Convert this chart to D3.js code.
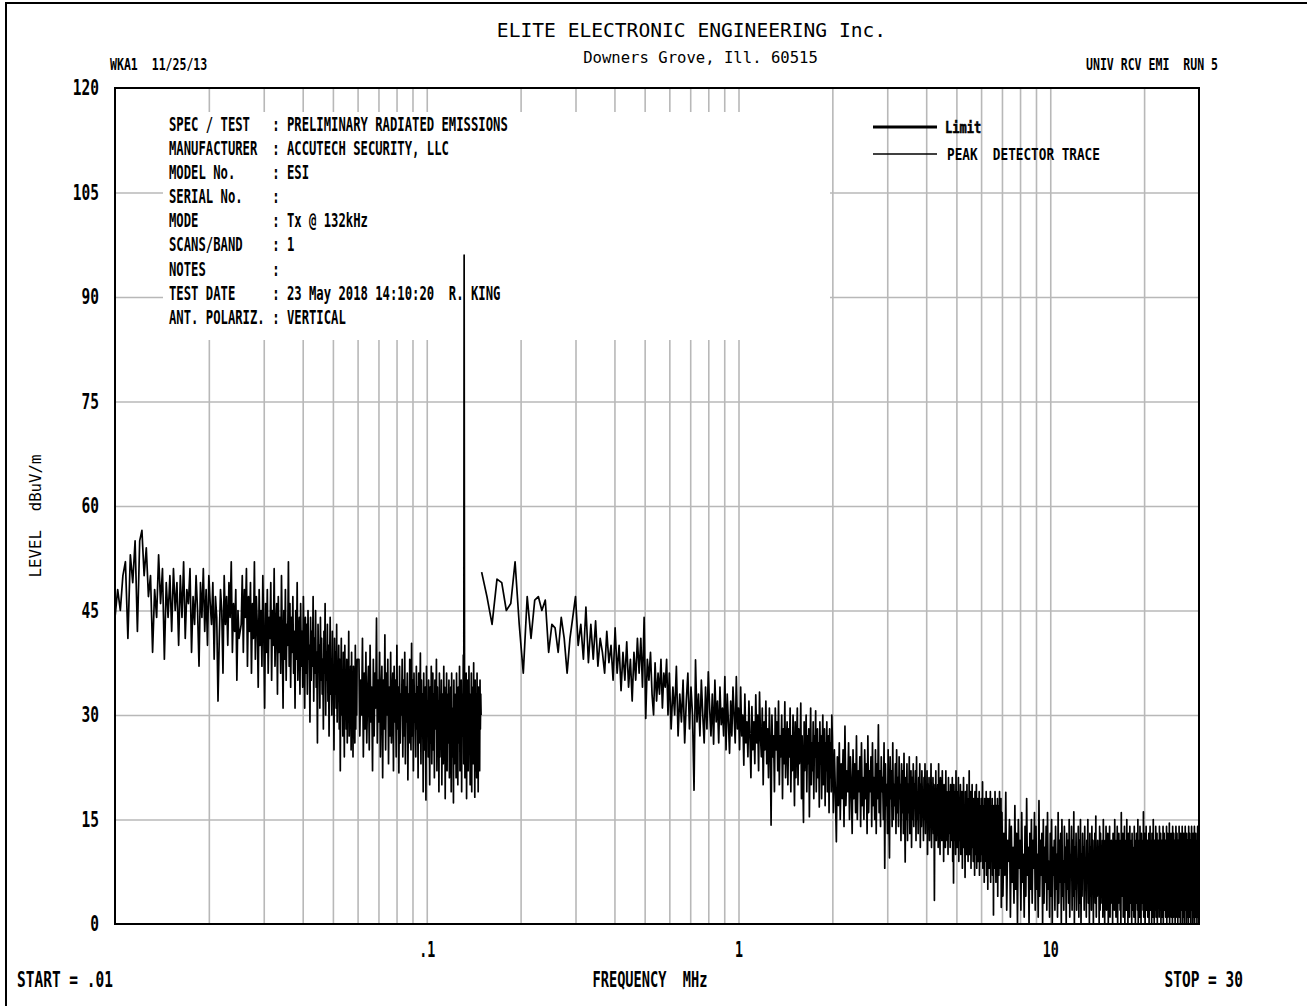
<!DOCTYPE html>
<html>
<head>
<meta charset="utf-8">
<script src="https://cdn.jsdelivr.net/npm/d3@7"></script>
<style>
  html, body { margin: 0; padding: 0; background: #fff; }
  svg { display: block; }
</style>
</head>
<body>
<div id="app"></div>
<script>
// ---- values ----
const freqDomain = [0.01, 30];          // MHz
const levelDomain = [0, 120];           // dBuV/m
const levelTicks = [0, 15, 30, 45, 60, 75, 90, 105, 120];
const levelGrid = [15, 30, 45, 60, 75, 90, 105];
const freqGrid = [0.02, 0.03, 0.04, 0.05, 0.06, 0.07, 0.08, 0.09, 0.1,
                  0.2, 0.3, 0.4, 0.5, 0.6, 0.7, 0.8, 0.9, 1,
                  2, 3, 4, 5, 6, 7, 8, 9, 10, 20];
const freqTicks = [0.1, 1, 10];
const freqTickLabels = ['.1', '1', '10'];

const infoLabels = ['SPEC / TEST', 'MANUFACTURER', 'MODEL No.', 'SERIAL No.', 'MODE',
                    'SCANS/BAND', 'NOTES', 'TEST DATE', 'ANT. POLARIZ.'];
const infoValues = ['PRELIMINARY RADIATED EMISSIONS', 'ACCUTECH SECURITY, LLC', 'ESI', '',
                    'Tx @ 132kHz', '1', '', '23 May 2018 14:10:20  R. KING', 'VERTICAL'];

// peak detector trace, band 1 (10 kHz - 150 kHz), three sweep pieces
const band1a = [44,48,45,50,52,41,53,49,55,42, 55,56.5,50,54,47,50,39,48,44,53,
  46,51,38,49,44,50,42,51,45,49, 40,50,44,52,41,48,46,51,39,47,
  43,50,45,37,49,44,51,42,48,40, 50,46,43,49,38,47,44,32,41,48,
  45,36,50,43,47,40,49,44,52,39, 46,42,48,35,45,41];
const band1b = [43,50,39,48,44,51,37,47,42,49, 36,46,41,52,38,47,43,34,48,40,
  45,37,50,42,31,46,39,48,36,44, 41,49,35,45,40,51,37,43,46,33,
  47,39,44,36,50,41,31,45,38,48, 35,43,40,52,37,46,34,44,39,47,
  36,42,31,45,38,49,35,41,44,33, 46,37,42,34,47,39,31,44,36,43,
  33,45,38,40,29,44,35,42,37,47, 32,41,36,45,34,39,26,43,37,40,
  31,44,35,41,33,38,28,42,36,46, 30,39,35,43,32,40,27,37,44,33,
  38,30,42,34,36,25,41,33,39,31, 43,29,37,34,40,28,38,22,35,41,
  30,36,27,39,33,24,40,31,35,28, 38,26,36,32,42,27,34,30,37,25,
  39,29,35,24,37,31,33,26,40,28, 36,30,38];
const band1c = [38,27,35,30,41,24,36,28,39,26, 33,37,25,40,29,34,22,38,27,36,
  31,43.9,26,35,29,39,24,33,37,21, 35,28,41.5,25,36,30,38,23,34,27,
  39,26,32,36,22,37,29,35,24,40, 28,34,21.7,37,26,33,30,38,24,35,
  27,39,23,34,29,36,20.7,33,26,38, 30,25,40.3,27,35,22,36,29,33,24,
  37,28,34,21,36,26,31,38.9,23,35, 28,33,19,36,25,30,34,17.8,37,27,
  32,24,35,29,20,34,26,37,23,31, 36,25,33,21,35,28,30,38,22,34,
  26,32,19,36,24,31,27,35,20,33, 29,23,37,25,34,18,31,27,36,22,
  33,26,30,35,21,32,25,34,19,36, 24,31,28,17.4,35,23,33,27,30,21,
  36,25,32,20,34,26,29,37,22,31, 24,35,19,33,27,30,38.6,23,
  96,
  34,21,31,26,36,18,32,24,35,22,29, 37,25,33,20,31,27,36,19,34,24,
  30,23,37.5,26,32,18.2,35,22,29,33, 21,36,25,31,19,34,27,30,22,35,28,33,30];

// band 2 (150 kHz - 30 MHz), four sweep pieces
const band2a = [50.5,47,43,49.5,49,45,46,52,43,36, 47,41,46.5,47,45,46.5,39,43,42.5,39,
  44,41,36,41,44,47,40,43,38,45.5, 37.5,
  43,38,43.5,37,41,39,36,42,37.5, 40,35,42.5,36,40,33.5,39,35,40.5,34,
  38,32,39,35,41,36,41,34,44,29.5, 38,35,39,33,30,37.5,32,36,33,38, 31,36,34,38,30];
const band2b = [36,28,34,30,37,27,33,29,35,26, 32,36,28,34,30,19.2,37.9,29,33,27,
  35,30,26,34,28,36.2,31,27,33,25.8, 35,29,32,26,34,28.6,31,27,35.5,25,
  33,29,24.5,32,27,34,30,26,35.5,28, 31,25,34,27,30,22.8,33,26,29,24,
  32,27,21,31.2,25,29,23,32.9,26,30, 22,33.3,27,24,31,20,29,25,32,23,
  28,21,31,26,14.2,30,24,27,19,31, 25,29,22,32,20,27,24,30,18,28,
  23,31.9,21,26,29,20,28,24,31,19, 27,22,30,25,17,29,21,26,31,20,
  28,23,25,31.7,18,27,21,14.6,29,22, 26,30,19,27,23,28,15.4,25,31,20,
  26,22,29,18,27,24,30.6,19,25,28, 21,26,16.8,29,23,27,18,25,30,20,
  24,28,17,26,22,29,19,25,27,16, 28,21,26,19,30];
const band2c = [27,16,25,19,11.8,24,17,26,15,23, 18,25,14,28.4,17,22,19,26,15,24,
  20,13,25,18,23,16,27,15,22,19, 24,14,26,17,21,15,25,18,23,13,
  27,16,22,19,24,14,26,17,21,15, 25,13,23,18,28.6,16,22,14,24,19,
  21,15,26,8,23,17,20,13,25,16, 9.5,24,18,22,14,26,15,20,17,23,
  13,25,16,21,14,24,18,20,12,23, 16,22,13,24.5,17,8.9,21,15,23,12,
  20,16,24,13,19,22,11,21,15,23, 14,20,17,22,12,24,15,19,13,21,
  16,23,11,20,14,22,17,18,12,21, 15,23,13,19,16,22,10,20,14,21,
  12,19,15,23,11,18,14,21,13,20, 3.4,19,15,22,12,18,14,20,11,23,
  13,17,10,21,15,19,12,22,14,18, 9,20,13,17,11,22,14,19,12,18,
  10,21,13,16,19,11,20,14,17,12, 21,9,18,5.9,20,12,16,19,10,22,
  13,17,11,19,14,21,9,18,12,16, 20,10,17,13,19,8,18,12,21,11,
  16,14,6.7,19,12,17,10,20,13,15, 9,18,12,22,10,16,14,19,8,17,
  11,20,13,15,9,18,12,16,7,19, 10,17,13,20,8,15,12,18,9,16,
  11,19,7,17,13,15,9,18,10,16, 12,20.4,8,17,11,15,6,18,10,14,
  17,9,19,7,15,12,18,5,16,10, 14,18,8,16,11,19,6,15,13,17,
  9,18,7,14,16,1.3,17,10,15,8, 19,11,13,6,17,9,16,12,18,4,
  15,11,17,7,14,19,8,16,10,13, 18,2.4,15];
const band2d = [16,4,13,7,18.9,2,12,9,15,1, 14,6,11,3,17,5,13,0,15,8,
  12,2,16,6,10,1,14,4,18,7, 11,0,13,5,15,3,12,8,16,2,
  14,5,10,1,17.7,4,12,7,13,0, 15,3,11,6,14,2,16,5,9,1,
  13,4,15,0,11,7,12,2,14,5, 10,1,16,3,12,6,13,0,15,4,
  9,2,14,6,11,0,13,5,12,3, 15,1,10,7,14,2,12,4,16.1,0,
  11,5,13,2,9,6,14,1,12,3, 15,0,10,4,13,7,11,2,14,5,
  9,1,12,6,15,3,10,0,13,4, 11,2,14,5,12,0,9,7,13,3,
  15.5,1,10,4,12,6,11,0,14,2, 13,5,9,3,12,1,15,4,10,0,
  12,6,14,2,11,4,13,0,10,5, 14,1,9,3,12,7,11,0,13,4,
  10,2,15,5,11,1,12,6,14,0, 9,3,13,5,11,2,12,0,16,4,
  10,6,13,1,11,3,14,0,9,5, 12,2,15,4,10,0,13,6,11,1,
  14,3,9,5,12,0,13,2,11,7, 10,1,14,4,12,0,9,3,13,6,
  11,2,15,0,10,5,12,1,14,4, 9,0,13,3,11,6,12,2,16.1,1,
  10,4,13,0,11,5,14,2,9,3, 12,1,10,6,13,0,11,4,14,2,
  9,5,12,0,13,3,10,1,15,4, 11,0,12,6,9,2,14,1,10,5,
  13,0,11,3,12,4,9,1,14,6, 10,2,13,0,11,5,12,1,9,3,
  14,0,10,4,13,2,11,6,12,1, 9,3,14,0,10,5,13,1,11,2,
  12,4,14.5,0,9,6,11,2,13,1, 10,3,12,0,14,5,9,1,13,4,
  11,2,12,0,10,6,14,3,9,1, 13,5,11,0,12,2,10,4,14,1,
  9,3,12,0,13,6,11,2,10,4, 14,0,9,5,12,1,13,3,11,0,
  10,4,14,2,12,6,9,0,13,3, 11,1,12,5,10,0,14,2,9,4,
  13,1,11,6,12,0,10,3,14,2, 9,5,12,0,13,1,11,4,10,2,
  14,0,12,6,9,3,13,1,11,5, 10,0,12,2,14,4,9,1,13,6,
  11];

// sweep pieces: first frequency and step (MHz)
const band1Sweeps = [
  { start: 0.01, step: 0.0002, values: band1a },
  { start: 0.0254, step: 0.0002, values: band1b },
  { start: 0.0606, step: 0.0004, values: band1c }
];
const band2Sweeps = [
  { start: 0.15, step: 0.006, values: band2a },
  { start: 0.6, step: 0.008, values: band2b },
  { start: 2.0, step: 0.015, values: band2c },
  { start: 7.0, step: 0.05, values: band2d }
];

// ---- layout ----
const W = 1307, H = 1006;
const plot = { left: 115, right: 1199, top: 88, bottom: 924 };
const MONO = '"DejaVu Sans Mono", "Liberation Mono", monospace';

const x = d3.scaleLog().domain(freqDomain).range([plot.left, plot.right]);
const y = d3.scaleLinear().domain(levelDomain).range([plot.bottom, plot.top]);

const svg = d3.select('#app').append('svg')
    .attr('width', W)
    .attr('height', H)
    .style('background', '#fff');

// condensed plotter-like text: mono font squeezed horizontally
function label(sel, px, py, str, o) {
    return sel.append('text')
        .attr('transform', `translate(${px},${py}) scale(${o.sx || 1},1)`)
        .attr('text-anchor', o.anchor || 'start')
        .attr('font-family', MONO)
        .attr('font-size', o.size)
        .attr('font-weight', o.weight || 'bold')
        .attr('fill', '#000')
        .style('white-space', 'pre')
        .text(str);
}

// page border (only left and top survive in the scan)
svg.append('line').attr('x1', 6).attr('x2', 6).attr('y1', 2).attr('y2', H)
    .attr('stroke', '#000').attr('stroke-width', 2);
svg.append('line').attr('x1', 5).attr('x2', W).attr('y1', 3).attr('y2', 3)
    .attr('stroke', '#000').attr('stroke-width', 2);

// grid
svg.append('g')
    .attr('transform', `translate(0,${plot.bottom})`)
    .call(d3.axisBottom(x).tickValues(freqGrid).tickSize(-(plot.bottom - plot.top)).tickFormat(''))
    .call(g => g.select('.domain').remove())
    .call(g => g.selectAll('line').attr('stroke', '#b8b8b8').attr('stroke-width', 1.6));

svg.append('g')
    .attr('transform', `translate(${plot.left},0)`)
    .call(d3.axisLeft(y).tickValues(levelGrid).tickSize(-(plot.right - plot.left)).tickFormat(''))
    .call(g => g.select('.domain').remove())
    .call(g => g.selectAll('line').attr('stroke', '#b8b8b8').attr('stroke-width', 1.6));

// info block knocks out the grid behind it
svg.append('rect')
    .attr('x', 163).attr('y', 112)
    .attr('width', 830 - 163).attr('height', 340 - 112)
    .attr('fill', '#fff');

const info = svg.append('g');
const charW = 7.37;
infoLabels.forEach((lab, i) => {
    const by = 130.7 + i * 24.15;
    label(info, 169, by, lab, { size: 19, sx: 0.644 });
    label(info, 169 + 14 * charW, by, ':', { size: 19, sx: 0.644 });
    if (infoValues[i]) label(info, 169 + 16 * charW, by, infoValues[i], { size: 19, sx: 0.644 });
});

// legend
svg.append('line').attr('x1', 873).attr('x2', 937).attr('y1', 127).attr('y2', 127)
    .attr('stroke', '#000').attr('stroke-width', 3);
label(svg, 945, 133, 'Limit', { size: 16.5, sx: 0.73 }).attr('stroke', '#000').attr('stroke-width', 0.6);
svg.append('line').attr('x1', 873).attr('x2', 937).attr('y1', 154).attr('y2', 154)
    .attr('stroke', '#000').attr('stroke-width', 1.5);
label(svg, 947, 160, 'PEAK  DETECTOR TRACE', { size: 16.5, sx: 0.77 });

// frame
svg.append('rect')
    .attr('x', plot.left).attr('y', plot.top)
    .attr('width', plot.right - plot.left).attr('height', plot.bottom - plot.top)
    .attr('fill', 'none').attr('stroke', '#000').attr('stroke-width', 2);

// trace
const toPoints = sweeps => sweeps.flatMap(s => s.values.map((v, i) => ({ f: s.start + i * s.step, v })));
const line = d3.line().x(d => x(d.f)).y(d => y(d.v));

[band1Sweeps, band2Sweeps].forEach(sweeps => {
    svg.append('path')
        .datum(toPoints(sweeps))
        .attr('d', line)
        .attr('fill', 'none')
        .attr('stroke', '#000')
        .attr('stroke-width', 1.7)
        .attr('stroke-linejoin', 'round');
});

// axis labels
const sxTick = 0.66;
svg.append('g')
    .attr('transform', `translate(${plot.left},0)`)
    .call(d3.axisLeft(y).tickValues(levelTicks).tickSize(0).tickFormat(d3.format('d')))
    .call(g => g.select('.domain').remove())
    .call(g => g.selectAll('text')
        .attr('font-family', MONO).attr('font-size', 22).attr('font-weight', 'bold').attr('fill', '#000')
        .attr('x', -16 / sxTick).attr('dy', '0.3em')
        .attr('transform', `scale(${sxTick},1)`));

svg.append('g')
    .attr('transform', `translate(0,${plot.bottom})`)
    .call(d3.axisBottom(x).tickValues(freqTicks).tickSize(0).tickFormat((d, i) => freqTickLabels[i]))
    .call(g => g.select('.domain').remove())
    .call(g => g.selectAll('text')
        .attr('font-family', MONO).attr('font-size', 20.5).attr('font-weight', 'bold').attr('fill', '#000')
        .attr('y', 33).attr('dy', 0)
        .attr('transform', 'scale(0.65,1)'));

// header and footer texts
label(svg, 691.5, 37, 'ELITE ELECTRONIC ENGINEERING Inc.', { size: 19.6, weight: 'normal', anchor: 'middle' });
label(svg, 700.5, 63, 'Downers Grove, Ill. 60515', { size: 15.6, weight: 'normal', anchor: 'middle' });
label(svg, 110, 70, 'WKA1  11/25/13', { size: 15, sx: 0.77 });
label(svg, 1218, 70, 'UNIV RCV EMI  RUN 5', { size: 15, sx: 0.77, anchor: 'end' });

label(svg, 17, 987, 'START = .01', { size: 21, sx: 0.69 });
label(svg, 650, 987, 'FREQUENCY  MHz', { size: 21, sx: 0.65, anchor: 'middle' });
label(svg, 1243, 987, 'STOP = 30', { size: 21, sx: 0.69, anchor: 'end' });

svg.append('text')
    .attr('transform', 'translate(41,516) rotate(-90)')
    .attr('text-anchor', 'middle')
    .attr('font-family', MONO)
    .attr('font-size', 15.7)
    .attr('fill', '#000')
    .style('white-space', 'pre')
    .text('LEVEL  dBuV/m');
</script>
</body>
</html>
